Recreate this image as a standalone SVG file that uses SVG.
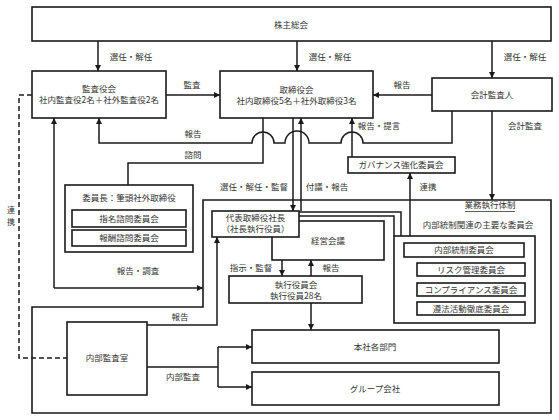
<svg xmlns="http://www.w3.org/2000/svg" width="559" height="420" viewBox="0 0 559 420">
<style>
  .box{fill:#fff;stroke:#1a1a1a;stroke-width:1.6}
  .ln{fill:none;stroke:#1a1a1a;stroke-width:1.5}
  .dash{fill:none;stroke:#1a1a1a;stroke-width:1.5;stroke-dasharray:5,3}
  text{font-family:"Noto Sans CJK JP","Noto Sans CJK SC",sans-serif;font-size:8.5px;fill:#333;text-anchor:middle}
</style>
<defs>
  <marker id="ah" viewBox="0 0 6 6" refX="6" refY="3" markerWidth="6" markerHeight="6" markerUnits="userSpaceOnUse" orient="auto-start-reverse">
    <path d="M0,0 L6,3 L0,6 z" fill="#1a1a1a"/>
  </marker>
</defs>
<rect width="559" height="420" fill="#fff"/>

<g id="frame">
  <path class="box" d="M203,200 H551 V413 H32 V307 H203 Z"/>
  <text x="490" y="208">業務執行体制</text>
  <line x1="465" y1="211.5" x2="515" y2="211.5" stroke="#333" stroke-width="0.8"/>
  <text x="478" y="228">内部統制関連の主要な委員会</text>
</g>

<g id="connectors">
  <path class="ln" d="M98,41 V71" marker-end="url(#ah)"/>
  <path class="ln" d="M297,41 V71" marker-end="url(#ah)"/>
  <path class="ln" d="M492,41 V78" marker-end="url(#ah)"/>
  <path class="ln" d="M166,95 H220" marker-end="url(#ah)"/>
  <path class="ln" d="M432,95 H373" marker-end="url(#ah)"/>
  <path class="ln" d="M452,111 V143 H363 A11,11 0 0 0 341,143 H309 A12,12 0 0 0 285,143 H274 A11,11 0 0 0 252,143 H99 V118" marker-end="url(#ah)"/>
  <path class="ln" d="M492,111 V200" marker-end="url(#ah)"/>
  <path class="ln" d="M263,118 V163 H128 V185"/>
  <path class="ln" d="M293,118 V211" marker-end="url(#ah)"/>
  <path class="ln" d="M301,211 V118" marker-end="url(#ah)"/>
  <path class="ln" d="M352,157 V118" marker-end="url(#ah)"/>
  <path class="ln" d="M410,173 V243" marker-start="url(#ah)" marker-end="url(#ah)"/>
  <path class="ln" d="M299,212 H401 V236"/>
  <path class="ln" d="M299,216 H394 V236"/>
  <path class="ln" d="M282,260 V276" marker-end="url(#ah)"/>
  <path class="ln" d="M311,276 V260" marker-end="url(#ah)"/>
  <path class="ln" d="M311,303 V330" marker-end="url(#ah)"/>
  <path class="ln" d="M54,288 V118" marker-end="url(#ah)"/>
  <path class="ln" d="M54,288 H203" marker-end="url(#ah)"/>
  <path class="ln" d="M147,325 H217 V237" marker-end="url(#ah)"/>
  <path class="ln" d="M147,367 H218"/>
  <path class="ln" d="M218,347 V387"/>
  <path class="ln" d="M218,347 H252" marker-end="url(#ah)"/>
  <path class="ln" d="M218,387 H252" marker-end="url(#ah)"/>
  <path class="dash" d="M32,95 H19 V358 H67"/>

  <text x="131" y="60">選任・解任</text>
  <text x="330" y="60">選任・解任</text>
  <text x="525" y="60">選任・解任</text>
  <text x="192" y="88">監査</text>
  <text x="402" y="88">報告</text>
  <text x="525" y="129">会計監査</text>
  <text x="379" y="129">報告・提言</text>
  <text x="193" y="137">報告</text>
  <text x="193" y="158">諮問</text>
  <text x="254" y="190">選任・解任・監督</text>
  <text x="327" y="190">付議・報告</text>
  <text x="428" y="190">連携</text>
  <text x="251" y="271">指示・監督</text>
  <text x="331" y="271">報告</text>
  <text x="138" y="274">報告・調査</text>
  <text x="180" y="320">報告</text>
  <text x="183" y="380">内部監査</text>
  <text x="11" y="213" style="font-size:8px">連</text>
  <text x="11" y="225" style="font-size:8px">携</text>
</g>

<g id="shareholders">
  <rect class="box" x="32" y="7" width="519" height="34"/>
  <text x="291" y="28">株主総会</text>
</g>

<g id="audit-board">
  <rect class="box" x="32" y="71" width="134" height="47"/>
  <text x="99" y="92">監査役会</text>
  <text x="99" y="103">社内監査役2名＋社外監査役2名</text>
</g>

<g id="board">
  <rect class="box" x="220" y="71" width="153" height="47"/>
  <text x="296.5" y="93">取締役会</text>
  <text x="296.5" y="104">社内取締役5名＋社外取締役3名</text>
</g>

<g id="accounting-auditor">
  <rect class="box" x="432" y="78" width="120" height="33"/>
  <text x="492" y="98">会計監査人</text>
</g>

<g id="governance">
  <rect class="box" x="348" y="157" width="107" height="16"/>
  <text x="401" y="168">ガバナンス強化委員会</text>
</g>

<g id="advisory">
  <rect class="box" x="65" y="185" width="128" height="67"/>
  <text x="129" y="201">委員長：筆頭社外取締役</text>
  <rect class="box" x="72" y="210" width="114" height="17"/>
  <text x="129" y="221.5">指名諮問委員会</text>
  <rect class="box" x="72" y="230" width="114" height="16"/>
  <text x="129" y="241">報酬諮問委員会</text>
</g>

<g id="management-meeting">
  <rect class="box" x="272" y="221" width="112" height="39"/>
  <text x="328" y="244">経営会議</text>
</g>

<g id="president">
  <rect class="box" x="212" y="211" width="87" height="26"/>
  <text x="255.5" y="221">代表取締役社長</text>
  <text x="255.5" y="232">（社長執行役員）</text>
</g>

<g id="executive-committee">
  <rect class="box" x="229" y="276" width="133" height="27"/>
  <text x="296" y="288">執行役員会</text>
  <text x="296" y="299">執行役員28名</text>
</g>

<g id="committees">
  <rect class="box" x="394" y="236" width="141" height="87"/>
  <rect class="box" x="404" y="243" width="120" height="14"/>
  <text x="464" y="253">内部統制委員会</text>
  <rect class="box" x="417" y="263" width="108" height="13"/>
  <text x="471" y="272.5">リスク管理委員会</text>
  <rect class="box" x="417" y="283" width="108" height="13"/>
  <text x="471" y="292.5">コンプライアンス委員会</text>
  <rect class="box" x="417" y="302" width="108" height="13"/>
  <text x="471" y="311.5">遵法活動徹底委員会</text>
</g>

<g id="head-office">
  <rect class="box" x="252" y="330" width="247" height="33"/>
  <text x="375" y="349.5">本社各部門</text>
</g>

<g id="group-companies">
  <rect class="box" x="252" y="372" width="247" height="33"/>
  <text x="375" y="391.5">グループ会社</text>
</g>

<g id="internal-audit">
  <rect class="box" x="67" y="322" width="80" height="73"/>
  <text x="107" y="361">内部監査室</text>
</g>
</svg>
